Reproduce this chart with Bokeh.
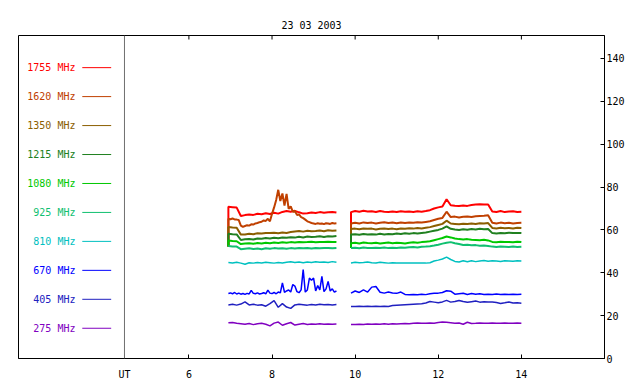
import math
from bokeh.plotting import figure
from bokeh.models import FixedTicker, Span, Range1d
from bokeh.core.properties import value
from bokeh.embed import file_html
from bokeh.resources import INLINE

TITLE = "23 03 2003"
FREQS = ["1755 MHz", "1620 MHz", "1350 MHz", "1215 MHz", "1080 MHz",
         "925 MHz", "810 MHz", "670 MHz", "405 MHz", "275 MHz"]
COLORS = ["#ff0000", "#c04000", "#8b5e00", "#208020", "#00c800",
          "#10c070", "#00c0c0", "#0000ff", "#2020c0", "#8000c0"]
X_TICKS = [6, 8, 10, 12, 14]
Y_TICKS = [0, 20, 40, 60, 80, 100, 120, 140]
UT_HOUR = 4.45
X_MIN, X_MAX = 1.9, 16.0
Y_MIN, Y_MAX = 0.0, 150.7

# time grids (hours UT); first point repeated (segment start)
T_A = [6.95, 6.95, 7.05, 7.15, 7.25, 7.35, 7.45, 7.55, 7.65, 7.75, 7.85, 7.95, 8.05, 8.15,
       8.25, 8.35, 8.45, 8.55, 8.65, 8.75, 8.85, 8.95, 9.05, 9.15, 9.25, 9.35, 9.45, 9.55]
T_A_FINE = [6.95, 6.95, 7.00, 7.05, 7.10, 7.15, 7.20, 7.25, 7.30, 7.35, 7.40, 7.45, 7.50, 7.55,
            7.60, 7.65, 7.70, 7.75, 7.80, 7.85, 7.90, 7.95, 8.00, 8.05, 8.10, 8.15, 8.20, 8.25,
            8.30, 8.35, 8.40, 8.45, 8.50, 8.55, 8.60, 8.65, 8.70, 8.75, 8.80, 8.85, 8.90, 8.95,
            9.00, 9.05, 9.10, 9.15, 9.20, 9.25, 9.30, 9.35, 9.40, 9.45, 9.50, 9.55]
T_B = [9.9, 9.9, 10.0, 10.1, 10.2, 10.3, 10.4, 10.5, 10.6, 10.7, 10.8, 10.9, 11.0, 11.1, 11.2,
       11.3, 11.4, 11.5, 11.6, 11.7, 11.8, 11.9, 12.0, 12.1, 12.2, 12.3, 12.4, 12.5, 12.6,
       12.7, 12.8, 12.9, 13.0, 13.1, 13.2, 13.3, 13.4, 13.5, 13.6, 13.7, 13.8, 13.9, 14.0]

# ---- segment A values ----
F1755_A = [52.3, 70.8, 70.6, 70.4, 66.5, 66.9, 67.2, 67.0, 67.5, 67.3, 67.8, 67.4, 68.0, 67.6,
           68.4, 68.8, 68.5, 68.9, 68.2, 67.6, 67.8, 68.1, 67.9, 68.3, 68.0, 68.2, 68.4, 68.1]
F1620_A = [52.3, 65.2, 65.0, 65.3, 64.9, 64.8, 64.6, 62.0, 61.4, 61.8, 62.2, 62.0, 62.6, 62.5,
           63.0, 63.2, 63.6, 63.8, 64.4, 64.2, 65.2, 64.0, 67.5, 70.5, 74.0, 78.7, 73.5, 77.0,
           71.4, 76.8, 69.8, 71.0, 68.5, 68.8, 67.0, 67.2, 66.0, 65.5, 64.8, 64.0, 63.6, 63.2,
           63.0, 62.8, 63.1, 62.9, 63.0, 62.7, 63.1, 63.0, 62.8, 63.2, 63.0, 63.1]
F1350_A = [52.3, 61.3, 61.1, 61.0, 57.8, 57.9, 58.2, 58.0, 58.4, 58.3, 58.6, 58.5, 58.7, 58.4,
           58.8, 58.6, 59.0, 59.3, 59.5, 59.2, 59.6, 59.4, 59.5, 59.7, 59.4, 59.8, 59.6, 59.7]
F1215_A = [52.3, 58.2, 58.0, 57.9, 55.3, 55.6, 55.8, 55.5, 56.0, 55.9, 56.2, 56.0, 56.3, 56.1,
           56.5, 56.3, 56.6, 56.4, 56.8, 56.5, 56.9, 56.7, 56.8, 57.0, 56.7, 57.0, 56.9, 57.1]
F1080_A = [52.3, 55.0, 54.8, 54.7, 53.4, 53.6, 53.8, 53.5, 53.9, 53.7, 54.0, 53.8, 54.1, 53.9,
           54.2, 54.0, 54.3, 54.1, 54.4, 54.2, 54.3, 54.5, 54.2, 54.4, 54.3, 54.5, 54.4, 54.3]
F925_A = [52.5, 52.5, 52.3, 52.2, 51.0, 51.2, 51.4, 51.1, 51.3, 51.0, 51.4, 51.2, 51.5, 51.3,
          51.4, 51.2, 51.5, 51.3, 51.6, 51.4, 51.5, 51.3, 51.6, 51.4, 51.5, 51.6, 51.4, 51.5]
F810_A = [44.8, 44.8, 44.6, 44.9, 44.5, 44.0, 44.7, 44.5, 44.8, 44.6, 44.9, 44.7, 44.5, 44.8,
          44.6, 44.9, 45.1, 44.8, 45.0, 44.7, 45.0, 44.8, 45.1, 44.9, 45.0, 44.8, 45.2, 44.9]
F670_A = [30.3, 30.3, 30.6, 30.2, 30.8, 30.1, 30.5, 30.0, 30.3, 29.9, 30.4, 30.1, 31.8, 30.4,
          30.2, 30.6, 30.1, 30.3, 30.7, 30.2, 31.9, 30.5, 30.3, 30.8, 30.2, 31.0, 30.6, 35.3,
          30.9, 31.5, 32.0, 31.0, 34.5, 33.8, 31.2, 30.7, 32.0, 41.5, 31.0, 32.0, 37.5, 36.5,
          37.5, 31.5, 34.0, 32.0, 38.3, 31.2, 32.5, 36.0, 31.5, 32.5, 31.0, 31.5]
F405_A = [25.0, 25.0, 25.3, 24.9, 25.4, 26.4, 25.0, 25.3, 24.9, 25.1, 24.4, 25.6, 27.0, 23.9,
          25.6, 24.0, 23.4, 25.0, 25.3, 25.1, 24.9, 25.2, 25.0, 25.3, 25.1, 25.2, 25.0, 25.2]
F275_A = [16.7, 16.7, 16.8, 16.4, 16.2, 16.0, 16.3, 15.8, 16.2, 16.4, 16.0, 15.2, 16.5, 17.0,
          15.5, 16.2, 16.8, 15.6, 16.0, 16.3, 15.9, 16.1, 16.0, 16.2, 16.0, 16.1, 16.0, 16.1]

# ---- segment B values ----
F1755_B = [51.5, 68.3, 68.8, 68.5, 68.9, 68.6, 68.7, 68.4, 68.8, 68.5, 68.3, 68.6, 68.4, 68.7,
           68.5, 68.6, 68.4, 68.7, 68.5, 68.8, 69.2, 70.0, 70.5, 70.9, 74.3, 71.5, 71.3, 71.2,
           71.4, 71.2, 71.6, 71.8, 72.0, 71.8, 71.9, 68.6, 68.4, 68.8, 68.3, 68.6, 68.7, 68.4, 68.5]
F1620_B = [51.5, 63.0, 63.3, 63.0, 63.5, 63.2, 63.4, 63.0, 63.3, 63.6, 63.2, 63.4, 63.1, 63.5,
           63.2, 63.4, 63.3, 63.6, 63.4, 63.7, 64.0, 64.6, 65.2, 65.6, 68.5, 66.0, 66.2, 65.8,
           66.1, 66.3, 66.0, 66.4, 66.5, 66.6, 66.8, 63.3, 63.0, 63.4, 63.1, 63.3, 63.0, 63.2, 63.3]
F1350_B = [51.5, 60.4, 60.6, 60.3, 60.7, 60.5, 60.6, 60.2, 60.5, 60.7, 60.4, 60.6, 60.3, 60.7,
           60.5, 60.8, 60.6, 60.9, 60.7, 61.0, 61.3, 61.8, 62.3, 62.8, 64.3, 63.0, 62.8, 62.6,
           62.9, 62.7, 63.0, 62.8, 63.1, 63.0, 63.2, 60.9, 60.7, 61.0, 60.8, 60.9, 60.7, 61.0, 60.9]
F1215_B = [51.5, 57.8, 58.0, 57.7, 58.1, 57.9, 58.0, 57.8, 58.2, 57.9, 58.1, 58.0, 58.3, 58.1,
           58.4, 58.2, 58.5, 58.3, 58.6, 58.8, 59.2, 59.6, 60.0, 60.6, 61.6, 60.5, 60.2, 60.0,
           60.3, 60.1, 60.4, 60.2, 60.5, 60.3, 60.4, 58.5, 58.3, 58.6, 58.4, 58.7, 58.5, 58.6, 58.5]
F1080_B = [51.5, 53.8, 54.0, 53.7, 54.1, 53.9, 53.8, 54.0, 53.7, 53.9, 54.1, 53.8, 54.0, 53.9,
           53.7, 54.0, 54.2, 54.0, 54.3, 54.5, 54.7, 55.2, 55.7, 56.2, 56.9, 56.5, 56.0, 55.7,
           55.5, 55.7, 55.4, 55.3, 55.2, 55.4, 55.1, 54.4, 54.2, 54.5, 54.3, 54.4, 54.2, 54.5, 54.3]
F925_B = [51.5, 51.5, 51.7, 51.4, 51.8, 51.6, 51.5, 51.7, 51.6, 51.8, 51.5, 51.7, 51.6, 51.8,
          51.7, 51.9, 52.0, 51.8, 52.1, 52.2, 52.4, 52.7, 53.1, 53.6, 54.0, 54.3, 53.8, 53.4,
          53.0, 53.1, 52.8, 52.9, 52.6, 52.7, 52.5, 52.2, 52.0, 52.2, 52.1, 52.0, 52.2, 52.0, 52.1]
F810_B = [44.6, 44.6, 44.9, 44.7, 44.8, 45.0, 44.7, 44.6, 44.9, 44.7, 44.5, 44.7, 44.6, 44.5,
          44.6, 44.5, 44.6, 44.5, 44.6, 44.5, 44.7, 45.5, 45.9, 46.4, 47.3, 46.2, 45.3, 45.0,
          45.6, 45.1, 45.6, 45.2, 45.5, 45.7, 45.4, 45.6, 45.5, 45.3, 45.6, 45.5, 45.4, 45.6, 45.5]
F670_B = [30.5, 30.5, 31.5, 30.8, 32.0, 31.0, 33.3, 33.6, 30.9, 30.5, 31.0, 30.6, 30.4, 31.0,
          29.9, 29.8, 29.9, 29.7, 30.0, 29.8, 30.2, 30.4, 30.5, 30.8, 31.6, 31.4, 30.0, 30.2,
          30.4, 29.9, 30.3, 30.0, 30.2, 29.9, 30.0, 29.9, 30.1, 29.9, 30.0, 29.9, 30.0, 29.9, 30.0]
F405_B = [24.3, 24.3, 24.3, 24.4, 24.3, 24.4, 24.3, 24.4, 24.3, 24.4, 24.3, 24.7, 24.9, 25.0,
          25.1, 25.2, 25.3, 25.4, 25.5, 25.9, 26.6, 26.3, 26.0, 26.4, 27.1, 26.3, 26.6, 27.1,
          26.6, 26.2, 26.5, 26.8, 26.3, 26.5, 26.4, 26.4, 26.1, 25.7, 26.0, 26.4, 25.9, 26.0, 25.8]
F275_B = [15.9, 15.9, 15.9, 16.0, 15.9, 16.1, 16.0, 16.1, 16.0, 16.2, 16.0, 16.2, 16.1, 16.2,
          16.3, 16.2, 16.4, 16.6, 16.4, 16.5, 16.6, 16.5, 16.8, 17.0, 16.9, 16.7, 16.5, 16.6,
          16.0, 16.9, 16.3, 16.4, 16.6, 16.5, 16.4, 16.6, 16.5, 16.4, 16.6, 16.5, 16.4, 16.6, 16.5]

SERIES = [
    (T_A, F1755_A, F1755_B), (T_A_FINE, F1620_A, F1620_B), (T_A, F1350_A, F1350_B),
    (T_A, F1215_A, F1215_B), (T_A, F1080_A, F1080_B), (T_A, F925_A, F925_B),
    (T_A, F810_A, F810_B), (T_A_FINE, F670_A, F670_B), (T_A, F405_A, F405_B),
    (T_A, F275_A, F275_B),
]

FONT = "DejaVu Sans Mono"
W, H = 640, 384
BL, BR, BT, BB = 18, 36, 35, 26
FRAME_H = H - BT - BB

p = figure(width=W, height=H, x_range=Range1d(X_MIN, X_MAX), y_range=Range1d(Y_MIN, Y_MAX),
           output_backend="svg", toolbar_location=None, y_axis_location="right",
           min_border_left=BL, min_border_right=BR, min_border_top=BT, min_border_bottom=BB,
           title=TITLE)
p.title.align = "center"
p.title.text_font = FONT
p.title.text_font_size = "10px"
p.title.text_font_style = "normal"
p.title.text_color = "black"
p.title.standoff = 10
p.outline_line_color = "black"
p.outline_line_width = 1
p.xgrid.visible = False
p.ygrid.visible = False
p.background_fill_color = "white"
p.border_fill_color = "white"

# bottom axis
xa = p.xaxis[0]
xa.ticker = FixedTicker(ticks=[UT_HOUR] + X_TICKS)
xa.major_label_overrides = {UT_HOUR: "UT"}
xa.major_tick_in = 4
xa.major_tick_out = 0
xa.minor_tick_line_color = None
xa.major_label_standoff = 10
xa.major_label_text_font = FONT
xa.major_label_text_font_size = "10px"
xa.major_label_text_color = "black"
xa.axis_line_color = "black"
xa.major_tick_line_color = "black"

# right axis
ya = p.yaxis[0]
ya.ticker = FixedTicker(ticks=Y_TICKS)
ya.major_tick_in = 4
ya.major_tick_out = 0
ya.minor_tick_line_color = None
ya.major_label_standoff = 2
ya.major_label_text_font = FONT
ya.major_label_text_font_size = "10px"
ya.major_label_text_color = "black"
ya.axis_line_color = "black"
ya.major_tick_line_color = "black"

# top edge tick marks (inward, 4 px)
tick_len = 4 * (Y_MAX - Y_MIN) / FRAME_H
p.segment(x0=X_TICKS, y0=[Y_MAX] * len(X_TICKS), x1=X_TICKS,
          y1=[Y_MAX - tick_len] * len(X_TICKS), line_color="black", line_width=1)

# series
nan = float("nan")
for i, ((ta_, va, vb), col) in enumerate(zip(SERIES, COLORS)):
    xs = list(ta_) + [nan] + list(T_B)
    ys = list(va) + [nan] + list(vb)
    lw = 2 if i < 6 else 1.5
    p.line(xs, ys, line_color=col, line_width=lw)

# UT line
p.add_layout(Span(location=UT_HOUR, dimension="height", line_color="#707070", line_width=1))

# legend
LEG_TOP = 135.7
LEG_STEP = 13.51
leg_y = [LEG_TOP - LEG_STEP * i for i in range(len(FREQS))]
p.text(x=[3.27] * len(FREQS), y=leg_y, text=FREQS, text_color=COLORS, text_align="right",
       text_baseline="middle", text_font=value(FONT), text_font_size=value("10px"))
p.segment(x0=[3.435] * len(FREQS), y0=leg_y, x1=[4.13] * len(FREQS), y1=leg_y,
          line_color=COLORS, line_width=1)

open("out.html", "w").write(file_html(p, INLINE))
